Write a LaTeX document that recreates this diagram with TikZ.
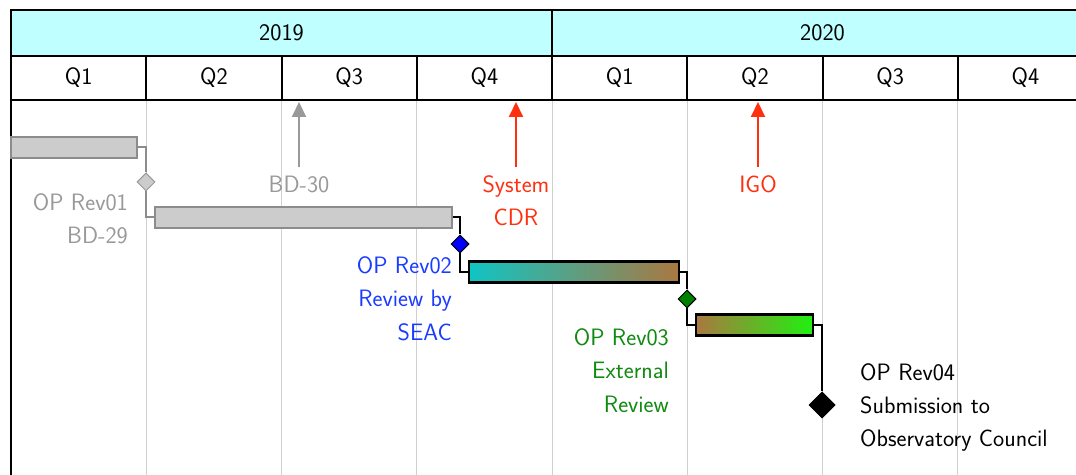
\documentclass[tikz,border=0pt]{standalone}
\usetikzlibrary{shapes.geometric,arrows.meta}
\definecolor{headcyan}{HTML}{C0FFFF}
\definecolor{bargray}{HTML}{CCCCCC}
\definecolor{linegray}{HTML}{8C8C8C}
\definecolor{txtgray}{HTML}{999999}
\definecolor{gridgray}{HTML}{D0D0D0}
\definecolor{myred}{HTML}{FF3010}
\definecolor{myblue}{HTML}{1A3CFF}
\definecolor{mygreen}{HTML}{108A10}
\definecolor{dgreen}{HTML}{008000}
\definecolor{gcyan}{HTML}{10C4C4}
\definecolor{gbrown}{HTML}{AA7840}
\definecolor{glime}{HTML}{20F010}
\begin{document}
\begin{tikzpicture}[x=1bp,y=-1bp,
  font=\sffamily\fontsize{23.8}{33.5}\selectfont,
  yearcell/.style={draw=black,line width=2bp,fill=headcyan,minimum width=541bp,minimum height=46bp,inner sep=0},
  qcell/.style={draw=black,line width=2bp,fill=white,minimum width=135.25bp,minimum height=44bp,inner sep=0},
  grid/.style={draw=gridgray,line width=1bp},
  graybar/.style={draw=linegray,line width=2.5bp,fill=bargray,minimum height=21bp,inner sep=0},
  colbar/.style={draw=black,line width=2.5bp,minimum height=21bp,inner sep=0},
  glink/.style={draw=linegray,line width=2bp},
  blink/.style={draw=black,line width=2bp},
  dia/.style={diamond,inner sep=0,minimum width=18bp,minimum height=18bp,line width=1bp},
  lbl/.style={inner sep=0,align=right,anchor=east},
  arr/.style={line width=2bp,-{Triangle[length=15bp,width=14bp]}},
]
\clip (0,0) rectangle (1076,475);
\fill[white] (0,0) rectangle (1076,475);
% grid
\foreach \i in {1,...,7}{
  \draw[grid] ({11+135.25*\i},100) -- ({11+135.25*\i},480);
}
\draw[black,line width=2bp] (11,100) -- (11,480);
% header
\node[yearcell] (y2019) at (281.5,33) {2019};
\node[yearcell] (y2020) at (822.5,33) {2020};
\foreach \y/\yy in {0/a,1/b}{
  \foreach \q in {1,...,4}{
    \node[qcell] (q\yy\q) at ({11+135.25*(4*\y+\q-0.5)},78) {Q\q};
  }
}
% bars
\node[graybar,minimum width=126bp] (b1) at (74,147.5) {};
\node[graybar,minimum width=297bp] (b2) at (303.5,217.5) {};
\node[colbar,minimum width=210bp,left color=gcyan,right color=gbrown] (b3) at (574,272) {};
\node[colbar,minimum width=117bp,left color=gbrown,right color=glime] (b4) at (754.5,325) {};
% milestones
\node[dia,draw=txtgray,fill=bargray] (m1) at (146,182) {};
\node[dia,draw=black,fill=blue] (m2) at (460,244) {};
\node[dia,draw=black,fill=dgreen] (m3) at (687,299) {};
\node[dia,draw=black,fill=black,minimum width=26bp,minimum height=26bp] (m4) at (822,405) {};
% links
\draw[glink] (b1.east) -| (m1.north);
\draw[glink] (m1.south) |- (b2.west);
\draw[blink] (b2.east) -| (m2.north);
\draw[blink] (m2.south) |- (b3.west);
\draw[blink] (b3.east) -| (m3.north);
\draw[blink] (m3.south) |- (b4.west);
\draw[blink] (b4.east) -| (m4.north);
% milestone labels
\node[lbl,text=txtgray] (l1) at (128,218.5) {OP Rev01\\BD-29};
\node[lbl,text=myblue] (l2) at (452,298.5) {OP Rev02\\Review by\\SEAC};
\node[lbl,text=mygreen] (l3) at (669,370.5) {OP Rev03\\External\\Review};
\node[inner sep=0,align=left,anchor=west] (l4) at (860,407.5) {OP Rev04\\Submission to\\Observatory Council};
% top arrows
\node[inner sep=0,text=txtgray] (bd30) at (299,184) {BD-30};
\node[inner sep=0,text=myred,align=center] (cdr) at (516,200.5) {System\\CDR};
\node[inner sep=0,text=myred] (igo) at (758,184) {IGO};
\coordinate (t1) at (299,102);
\coordinate (t2) at (516,102);
\coordinate (t3) at (758,102);
\draw[arr,draw=txtgray,fill=txtgray] ([yshift=8bp]bd30.north) -- (t1);
\draw[arr,draw=myred,fill=myred] ([yshift=8bp]cdr.north) -- (t2);
\draw[arr,draw=myred,fill=myred] ([yshift=8bp]igo.north) -- (t3);
\end{tikzpicture}
\end{document}
